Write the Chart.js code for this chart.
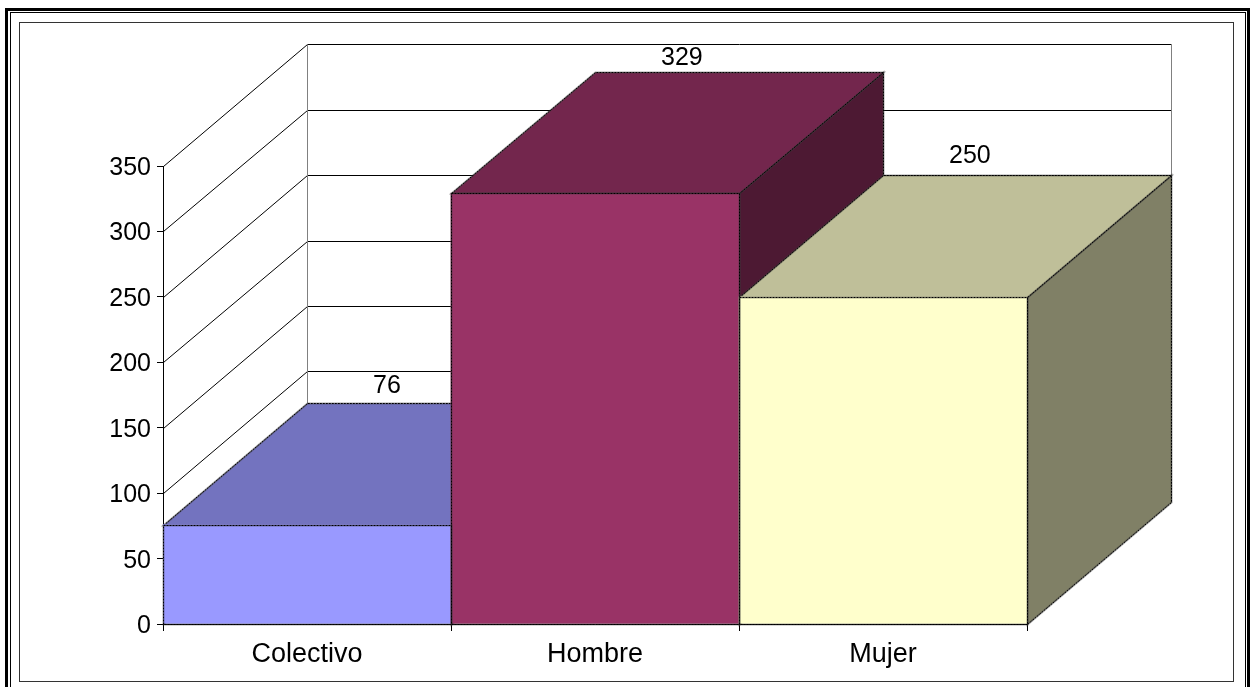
<!DOCTYPE html>
<html>
<head>
<meta charset="utf-8">
<title>Chart</title>
<script src="https://cdn.jsdelivr.net/npm/chart.js@4"></script>
<style>
  body { margin: 0; background: #fff; }
  canvas { display: block; }
</style>
</head>
<body>
<canvas id="myChart" width="1256" height="687"></canvas>
<script>
var categories = ["Colectivo", "Hombre", "Mujer"];
var values = [76, 329, 250];
var frontColors = ["#9999ff", "#993366", "#ffffcc"];
var topColors = ["#7373bf", "#73264d", "#bfbf99"];
var sideColors = ["#4d4d80", "#4d1933", "#808066"];
var labelNudge = [-1, 2, -3];

var depthX = 144;
var depthY = 121.7;
var fontName = "'Liberation Sans', Arial, sans-serif";

function poly(ctx, pts, fill, dashed) {
  ctx.beginPath();
  ctx.moveTo(pts[0][0], pts[0][1]);
  for (var i = 1; i < pts.length; i++) ctx.lineTo(pts[i][0], pts[i][1]);
  ctx.closePath();
  if (fill) {
    ctx.fillStyle = fill;
    ctx.fill();
  }
  if (dashed) {
    // soft grey line with black dots over it, like the old office charts
    ctx.lineWidth = 2;
    ctx.strokeStyle = "rgba(60,60,60,0.45)";
    ctx.stroke();
    ctx.lineWidth = 1;
    ctx.strokeStyle = "#000";
    ctx.setLineDash([2, 1]);
    ctx.stroke();
    ctx.setLineDash([]);
  }
}

function line(ctx, x1, y1, x2, y2, color) {
  ctx.beginPath();
  ctx.moveTo(x1, y1);
  ctx.lineTo(x2, y2);
  ctx.strokeStyle = color;
  ctx.lineWidth = 1;
  ctx.stroke();
}

function backY(py) {
  return Math.round(py - depthY) + 0.5;
}

var frame3d = {
  id: "frame3d",
  beforeDraw: function (chart) {
    var ctx = chart.ctx;
    ctx.save();
    // double page border, runs off the bottom of the picture
    ctx.strokeStyle = "#000";
    ctx.lineWidth = 3;
    ctx.strokeRect(6.5, 9.5, 1242, 700);
    ctx.lineWidth = 1;
    ctx.strokeRect(10.5, 12.5, 1235, 700);
    ctx.strokeStyle = "#333";
    ctx.strokeRect(19.5, 22.5, 1214, 659);
    ctx.restore();
  },
  beforeDatasetsDraw: function (chart) {
    var ctx = chart.ctx;
    var area = chart.chartArea;
    var y = chart.scales.y;
    var x0 = area.left + 0.5, x1 = area.right + 0.5;
    var meta = chart.getDatasetMeta(0);
    ctx.save();

    // walls
    y.ticks.forEach(function (t) {
      var raw = y.getPixelForValue(t.value);
      var py = Math.round(raw) + 0.5;
      line(ctx, x0, py, x0 + depthX, backY(raw), "#000");
      if (t.value > 0) line(ctx, x0 + depthX, backY(raw), x1 + depthX, backY(raw), "#000");
    });
    line(ctx, x0 + depthX, backY(area.top), x0 + depthX, backY(area.bottom), "#808080");
    line(ctx, x1 + depthX, backY(area.top), x1 + depthX, backY(area.bottom), "#808080");

    // depth faces, left to right
    meta.data.forEach(function (bar, i) {
      var p = bar.getProps(["x", "y", "base", "width"], true);
      var l = Math.round(p.x - p.width / 2) + 0.5;
      var r = Math.round(p.x + p.width / 2) + 0.5;
      var t = Math.round(p.y) + 0.5;
      var b = Math.round(p.base) + 0.5;
      poly(ctx, [[r, t], [r + depthX, backY(p.y)], [r + depthX, backY(p.base)], [r, b]], sideColors[i], true);
      poly(ctx, [[l, t], [l + depthX, backY(p.y)], [r + depthX, backY(p.y)], [r, t]], topColors[i], true);
    });
    ctx.restore();
  },
  afterDatasetsDraw: function (chart) {
    var ctx = chart.ctx;
    var y = chart.scales.y;
    var meta = chart.getDatasetMeta(0);
    ctx.save();

    meta.data.forEach(function (bar, i) {
      var p = bar.getProps(["x", "y", "base", "width"], true);
      var l = Math.round(p.x - p.width / 2) + 0.5;
      var r = Math.round(p.x + p.width / 2) + 0.5;
      var t = Math.round(p.y) + 0.5;
      var b = Math.round(p.base) + 0.5;
      poly(ctx, [[l, t], [r, t], [r, b], [l, b]], null, true);

      ctx.fillStyle = "#000";
      ctx.font = "25px " + fontName;
      ctx.textAlign = "left";
      ctx.textBaseline = "alphabetic";
      ctx.fillText(String(values[i]), p.x + 66, p.y - depthY - 9 + labelNudge[i]);
    });

    // y labels drawn here, the native ones sit 3px too high
    ctx.textAlign = "right";
    ctx.textBaseline = "alphabetic";
    y.ticks.forEach(function (t) {
      ctx.fillText(t.label, chart.chartArea.left - 12, y.getPixelForValue(t.value) + 9);
    });
    ctx.restore();
  }
};

var myChart = new Chart(document.getElementById("myChart"), {
  type: "bar",
  data: {
    labels: categories,
    datasets: [{
      data: values,
      backgroundColor: frontColors,
      borderWidth: 0,
      barPercentage: 1,
      categoryPercentage: 1
    }]
  },
  options: {
    responsive: false,
    animation: false,
    devicePixelRatio: 1,
    layout: { padding: { top: 166, right: 229, left: 0, bottom: 0 } },
    plugins: {
      legend: { display: false },
      tooltip: { enabled: false },
      title: { display: false }
    },
    scales: {
      x: {
        afterFit: function (scale) { scale.height = 63; },
        grid: { drawOnChartArea: false, color: "#000", tickLength: 7 },
        border: { color: "#000" },
        ticks: { color: "#000", padding: 7, font: { family: fontName, size: 27 } }
      },
      y: {
        min: 0,
        max: 350,
        afterFit: function (scale) { scale.width = 163; },
        grid: { drawOnChartArea: false, color: "#000", tickLength: 6 },
        border: { color: "#000" },
        ticks: { stepSize: 50, color: "rgba(0,0,0,0)", padding: 6, font: { family: fontName, size: 25 } }
      }
    }
  },
  plugins: [frame3d]
});
</script>
</body>
</html>
